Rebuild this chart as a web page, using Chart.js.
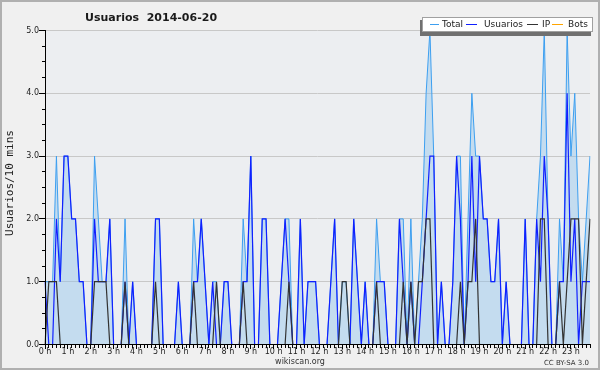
<!DOCTYPE html>
<html><head><meta charset="utf-8">
<script src="https://cdn.jsdelivr.net/npm/chart.js@4.4.1/dist/chart.umd.min.js"></script>
<style>html,body{margin:0;padding:0;background:#f0f0f0}canvas{display:block}</style>
</head><body>
<canvas id="c" width="600" height="370"></canvas>
<script>
// tick labels (one per hour)
const hourLabels = ["0 h","1 h","2 h","3 h","4 h","5 h","6 h","7 h","8 h","9 h","10 h","11 h",
  "12 h","13 h","14 h","15 h","16 h","17 h","18 h","19 h","20 h","21 h","22 h","23 h"];
// categories: 10-minute slots of the day
const slots = [];
for (let h = 0; h < 24; h++) for (let m = 0; m < 60; m += 10) slots.push(h + ":" + String(m).padStart(2, "0"));

// series values (one row per hour, 6 slots each)
const total = [
  1,1,1,3,1,3,  3,2,2,1,1,0,  0,3,2,1,1,2,  0,0,0,2,0,1,
  0,0,0,0,0,2,  2,0,0,0,0,1,  0,0,0,2,1,2,  1,0,1,1,0,1,
  1,0,0,0,2,1,  3,0,0,2,2,0,  0,0,1,2,2,0,  0,2,0,1,1,1,
  0,0,0,1,2,0,  1,1,0,2,1,0,  1,0,0,2,1,1,  0,0,0,2,2,0,
  2,0,1,2,4,5,  3,0,1,0,0,1,  3,3,0,2,4,3,  3,2,2,1,1,2,
  0,1,0,0,0,0,  2,0,0,2,3,5,  2,0,0,2,1,5,  3,4,2,1,2,3
];
const usuarios = [
  1,0,0,2,1,3,  3,2,2,1,1,0,  0,2,1,1,1,2,  0,0,0,1,0,1,
  0,0,0,0,0,2,  2,0,0,0,0,1,  0,0,0,1,1,2,  1,0,1,0,0,1,
  1,0,0,0,1,1,  3,0,0,2,2,0,  0,0,1,2,1,0,  0,2,0,1,1,1,
  0,0,0,1,2,0,  0,0,0,2,1,0,  1,0,0,1,1,1,  0,0,0,2,1,0,
  1,0,0,1,2,3,  3,0,1,0,0,1,  3,2,0,1,3,1,  3,2,2,1,1,2,
  0,1,0,0,0,0,  2,0,0,2,1,3,  2,0,0,1,1,4,  1,2,0,1,1,1
];
const ip = [
  0,1,1,1,0,0,  0,0,0,0,0,0,  0,1,1,1,1,0,  0,0,0,1,0,0,
  0,0,0,0,0,1,  0,0,0,0,0,0,  0,0,0,1,0,0,  0,0,0,1,0,0,
  0,0,0,0,1,0,  0,0,0,0,0,0,  0,0,0,0,1,0,  0,0,0,0,0,0,
  0,0,0,0,0,0,  1,1,0,0,0,0,  0,0,0,1,0,0,  0,0,0,0,1,0,
  1,0,1,1,2,2,  0,0,0,0,0,0,  0,1,0,1,1,2,  0,0,0,0,0,0,
  0,0,0,0,0,0,  0,0,0,0,2,2,  0,0,0,1,0,1,  2,2,2,0,1,2
];
const bots = [
  0,0,0,0,0,0,  0,0,0,0,0,0,  0,0,0,0,0,0,  0,0,0,0,0,0,
  0,0,0,0,0,0,  0,0,0,0,0,0,  0,0,0,0,0,0,  0,0,0,0,0,0,
  0,0,0,0,0,0,  0,0,0,0,0,0,  0,0,0,0,0,0,  0,0,0,0,0,0,
  0,0,0,0,0,0,  0,0,0,0,0,0,  0,0,0,0,0,0,  0,0,0,0,0,0,
  0,0,0,0,0,0,  0,0,0,0,0,0,  0,0,0,0,0,0,  0,0,0,0,0,0,
  0,0,0,0,0,0,  0,0,0,0,0,0,  0,0,0,0,0,0,  0,0,0,0,0,0
];
const seriesNames = ["Total", "Usuarios", "IP", "Bots"];
const seriesColors = ["#3d9ff0", "#1020ff", "#333333", "#ffa500"];

const deco = {
  id: "deco",
  beforeDraw(c) {
    const {ctx, chartArea: a} = c;
    ctx.save();
    ctx.fillStyle = "#f0f0f0"; ctx.fillRect(0, 0, 600, 370);
    ctx.fillStyle = "#eceef1"; ctx.fillRect(a.left, a.top, a.right - a.left, a.bottom - a.top);
    ctx.restore();
  },
  afterDatasetsDraw(c) {
    const {ctx, chartArea: a, scales: {x, y}} = c;
    ctx.save();
    ctx.fillStyle = "#000";
    const yb = Math.floor(y.getPixelForValue(0));
    const yt = Math.floor(y.getPixelForValue(5));
    const xl = Math.floor(a.left);
    ctx.fillRect(xl, yb, Math.round(a.right - a.left) + 1, 1);
    ctx.fillRect(xl, yt, 1, yb - yt + 1);
    for (let i = 0; i < slots.length; i++) {
      const px = Math.floor(x.getPixelForValue(i));
      ctx.fillRect(px, yb + 1, 1, i % 6 === 0 ? 4 : 3);
    }
    for (let k = 0; k <= 20; k++) {
      const py = Math.floor(y.getPixelForValue(k / 4));
      if (k % 4 === 0) ctx.fillRect(xl - 6, py, 6, 1); else ctx.fillRect(xl - 3, py, 3, 1);
    }
    ctx.restore();
  },
  afterDraw(c) {
    const ctx = c.ctx;
    ctx.save();
    // outer border
    ctx.strokeStyle = "#b0b0b0"; ctx.lineWidth = 2; ctx.strokeRect(1, 1, 598, 368);
    // title
    ctx.fillStyle = "#1a1a1a"; ctx.font = "bold 11px 'DejaVu Sans'"; ctx.textBaseline = "alphabetic";
    ctx.fillText("Usuarios  2014-06-20", 85, 21);
    // legend
    ctx.fillStyle = "#707070"; ctx.fillRect(420, 20, 171, 16);
    ctx.fillStyle = "#ffffff"; ctx.fillRect(422, 17, 171, 15);
    ctx.strokeStyle = "#a0a0a0"; ctx.lineWidth = 1; ctx.strokeRect(422.5, 17.5, 170, 14);
    const lx = [[430, 439, 442], [466, 477, 484], [527, 538, 542], [552, 563, 568]];
    ctx.font = "9px 'DejaVu Sans'"; ctx.textBaseline = "middle";
    for (let k = 0; k < 4; k++) {
      ctx.strokeStyle = seriesColors[k]; ctx.lineWidth = 1;
      ctx.beginPath(); ctx.moveTo(lx[k][0], 24.5); ctx.lineTo(lx[k][1], 24.5); ctx.stroke();
      ctx.fillStyle = "#222"; ctx.fillText(seriesNames[k], lx[k][2], 25);
    }
    // y title
    ctx.save();
    ctx.translate(10, 183); ctx.rotate(-Math.PI / 2);
    ctx.font = "11px 'DejaVu Sans Mono'"; ctx.textAlign = "center"; ctx.textBaseline = "middle";
    ctx.fillStyle = "#222"; ctx.fillText("Usuarios/10 mins", 0, 0);
    ctx.restore();
    // footer
    ctx.font = "8px 'DejaVu Sans'"; ctx.textAlign = "center"; ctx.textBaseline = "middle"; ctx.fillStyle = "#333";
    ctx.fillText("wikiscan.org", 300, 361.5);
    ctx.font = "7px 'DejaVu Sans'"; ctx.textAlign = "right";
    ctx.fillText("CC BY-SA 3.0", 589, 363);
    ctx.restore();
  }
};

const common = {pointRadius: 0, pointHoverRadius: 0, tension: 0};
new Chart(document.getElementById("c"), {
  type: "line",
  data: {
    labels: slots,
    datasets: [
      Object.assign({label: seriesNames[0], data: total, borderColor: seriesColors[0], backgroundColor: "rgba(138,193,238,0.4)", fill: "origin", borderWidth: 1, order: 3}, common),
      Object.assign({label: seriesNames[1], data: usuarios, borderColor: seriesColors[1], fill: false, borderWidth: 1.2, order: 2}, common),
      Object.assign({label: seriesNames[2], data: ip, borderColor: seriesColors[2], fill: false, borderWidth: 1.2, order: 1}, common),
      Object.assign({label: seriesNames[3], data: bots, borderColor: seriesColors[3], fill: false, borderWidth: 1, order: 0}, common)
    ]
  },
  options: {
    responsive: false, animation: false, devicePixelRatio: 1,
    layout: {padding: {top: 30.5, right: 10, left: 0, bottom: 0}},
    plugins: {legend: {display: false}, title: {display: false}, tooltip: {enabled: false}},
    events: [],
    scales: {
      x: {
        type: "category", offset: false,
        grid: {display: false, drawTicks: false}, border: {display: false},
        ticks: {autoSkip: false, maxRotation: 0, minRotation: 0, padding: 3, color: "#222",
          font: {family: "DejaVu Sans", size: 8},
          callback: (v, i) => (i % 6 === 0 ? hourLabels[i / 6] : "")},
        afterFit: s => { s.height = 25.5; }
      },
      y: {
        min: 0, max: 5,
        grid: {color: "#c8c8c8", drawTicks: false, lineWidth: 1}, border: {display: false},
        ticks: {stepSize: 1, padding: 6, color: "#222", font: {family: "DejaVu Sans", size: 8},
          callback: v => Number(v).toFixed(1)},
        afterFit: s => { s.width = 45; }
      }
    }
  },
  plugins: [deco]
});
</script>
</body></html>
